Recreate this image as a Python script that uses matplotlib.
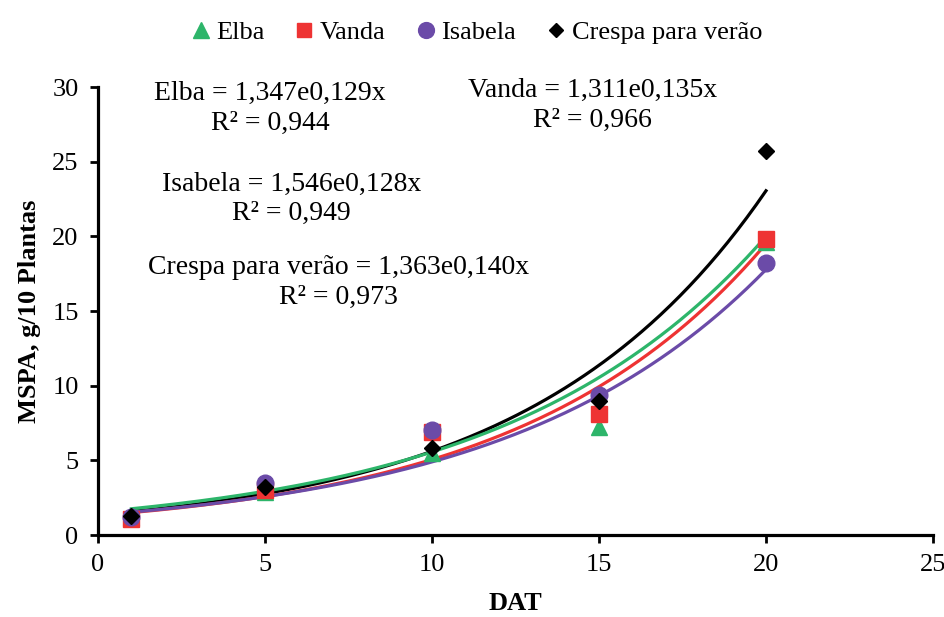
import numpy as np
import matplotlib
matplotlib.use("Agg")
import matplotlib.pyplot as plt

plt.rcParams["font.family"] = ["Liberation Serif", "DejaVu Serif"]

# observed data (DAT vs MSPA)
dat = [1, 5, 10, 15, 20]
elba = [1.2, 2.9, 5.5, 7.2, 19.6]
vanda = [1.1, 3.0, 6.9, 8.1, 19.8]
isabela = [1.2, 3.5, 7.0, 9.4, 18.2]
crespa = [1.3, 3.2, 5.8, 9.0, 25.7]

# exponential trendlines y = a*exp(b*x), as drawn
trend_a = {"Elba": 1.546, "Vanda": 1.311, "Isabela": 1.347, "Crespa": 1.363}
trend_b = {"Elba": 0.128, "Vanda": 0.135, "Isabela": 0.129, "Crespa": 0.1414}

eq_labels = [
    ("Elba = 1,347e0,129x\nR² = 0,944", 5.15, 28.55),
    ("Vanda = 1,311e0,135x\nR² = 0,966", 14.8, 28.75),
    ("Isabela = 1,546e0,128x\nR² = 0,949", 5.8, 22.5),
    ("Crespa para verão = 1,363e0,140x\nR² = 0,973", 7.2, 16.9),
]

C_ELBA, C_VANDA, C_ISA, C_CRESPA = "#2DB56A", "#EE3333", "#6B4BA8", "#000000"

fig = plt.figure(figsize=(9.45, 6.17), dpi=100)
ax = fig.add_axes([98 / 945, 1 - 535 / 617, (933 - 98) / 945, (535 - 87) / 617])

xs = np.linspace(1, 20, 200)
series = [("Elba", elba, C_ELBA, "^", 12),
          ("Vanda", vanda, C_VANDA, "s", 11),
          ("Isabela", isabela, C_ISA, "o", 12),
          ("Crespa", crespa, C_CRESPA, "D", 8)]
# trendlines: black on bottom, then red, purple, green on top
for key, col, z in [("Crespa", C_CRESPA, 3), ("Vanda", C_VANDA, 4),
                    ("Isabela", C_ISA, 4), ("Elba", C_ELBA, 5)]:
    ax.plot(xs, trend_a[key] * np.exp(trend_b[key] * xs), color=col, lw=2.3, zorder=z)

names = {"Elba": "Elba", "Vanda": "Vanda", "Isabela": "Isabela", "Crespa": "Crespa para verão"}
for key, ys, col, mk, ms in series:
    ax.plot(dat, ys, ls="none", marker=mk, color=col, ms=ms, mec=col, zorder=6,
            label=names[key])

for txt, x, y in eq_labels:
    ax.text(x, y, txt, ha="center", va="center", fontsize=20, linespacing=1.25)

ax.set_xlim(0, 25)
ax.set_ylim(0, 30)
ax.set_xticks(range(0, 26, 5))
ax.set_yticks(range(0, 31, 5))
ax.tick_params(labelsize=19, width=2.0, length=6, direction="out", pad=8)
for s in ["top", "right"]:
    ax.spines[s].set_visible(False)
for s in ["left", "bottom"]:
    ax.spines[s].set_linewidth(2.3)
ax.set_xlabel("DAT", fontsize=19, fontweight="bold", labelpad=11)
ax.set_ylabel("MSPA, g/10 Plantas", fontsize=19, fontweight="bold", labelpad=8)

fig.legend(loc="upper center", bbox_to_anchor=(0.503, 1.005), ncol=4, frameon=False,
           fontsize=19, handlelength=0.9, handletextpad=0.15, columnspacing=1.05,
           markerscale=0.95)

fig.savefig("out.png", dpi=100)
